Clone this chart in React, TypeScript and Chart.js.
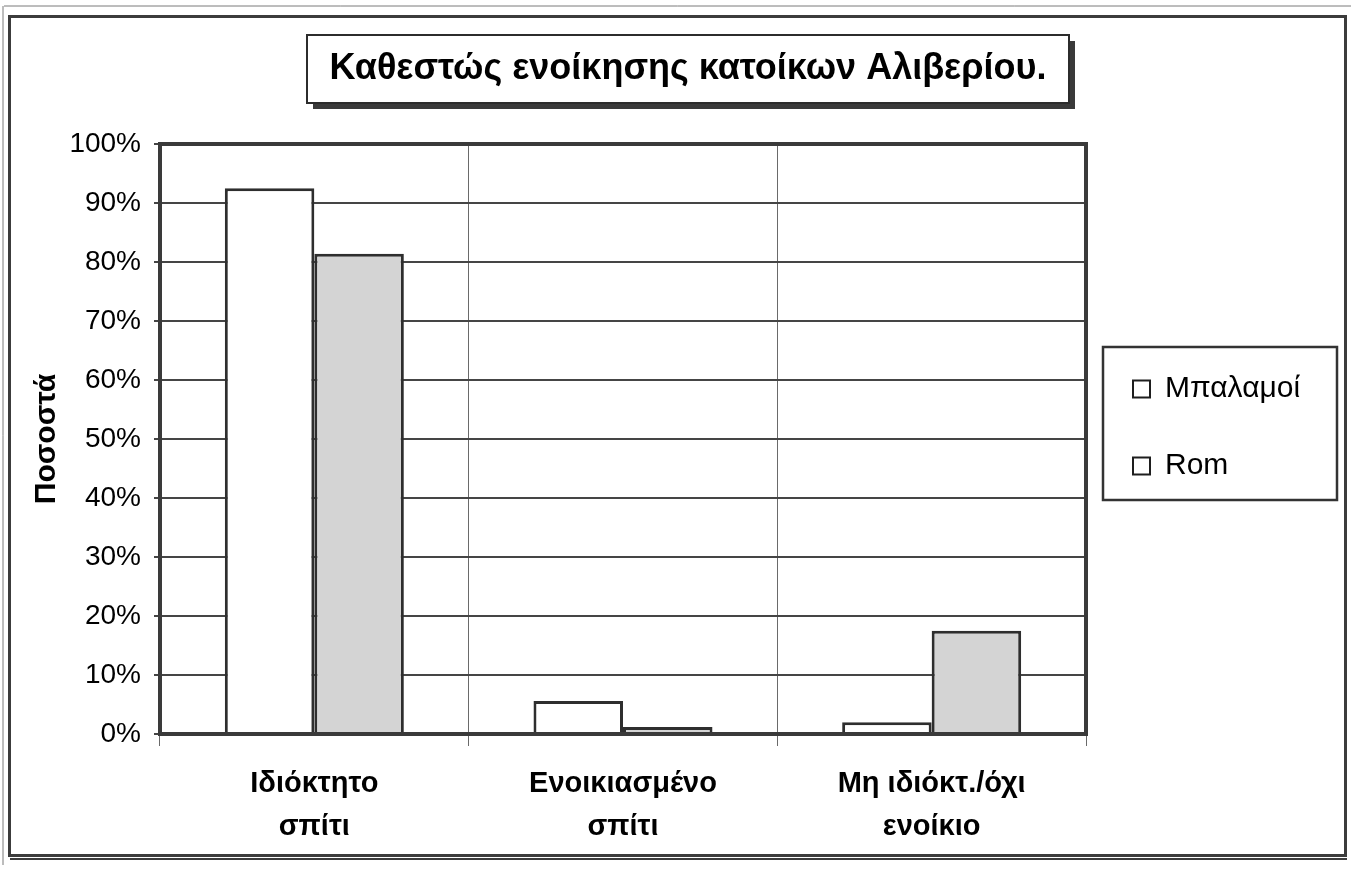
import React, { useEffect, useRef } from "react";
import { Chart, registerables } from "chart.js";

Chart.register(...registerables);

const W = 1355;
const H = 869;

const categories: string[][] = [
  ["Ιδιόκτητο", "σπίτι"],
  ["Ενοικιασμένο", "σπίτι"],
  ["Μη ιδιόκτ./όχι", "ενοίκιο"],
];
const seriesNames = ["Μπαλαμοί", "Rom"];
const balamoiValues = [92.5, 5.6, 2.0];
const romValues = [81.4, 1.2, 17.5];
const yTicks = [0, 10, 20, 30, 40, 50, 60, 70, 80, 90, 100];
const chartTitle = "Καθεστώς ενοίκησης κατοίκων Αλιβερίου.";
const yAxisTitle = "Ποσοστά";

const FONT = '"Liberation Sans", Arial, Helvetica, sans-serif';

export default function App() {
  const ref = useRef<HTMLCanvasElement>(null);

  useEffect(() => {
    const canvas = ref.current;
    if (!canvas) return;

    const legendFontSize = 30;
    const titleFontSize = 36;
    const mctx = document.createElement("canvas").getContext("2d")!;
    mctx.font = `${legendFontSize}px ${FONT}`;
    const textW = Math.max(...seriesNames.map((s) => mctx.measureText(s).width));
    const legendPad = 47;
    const boxW = 17;
    const legendW = legendPad + boxW + legendFontSize / 2 + textW + 10;

    const plotLeft = 160;
    const plotRight = 1086;
    const plotTop = 144;
    const plotBottom = 734;
    const padB = 14;
    const padR = Math.max(0, W - plotRight - legendW);
    const padL = padR + 21;
    const yTitleSize = 30;
    const yTitleLH = yTitleSize * 1.2;
    const titleLH = titleFontSize * 1.2;
    const titlePadTop = 69 - titleLH / 2;
    const titlePadBottom = plotTop - titlePadTop - titleLH;

    const decor = {
      id: "decor",
      beforeDraw(chart: any) {
        const ctx = chart.ctx;
        ctx.save();
        ctx.fillStyle = "#ffffff";
        ctx.fillRect(0, 0, W, H);
        // outer frame
        ctx.strokeStyle = "#7a7a7a";
        ctx.lineWidth = 1;
        ctx.beginPath();
        ctx.moveTo(4, 6);
        ctx.lineTo(W - 4, 6);
        ctx.moveTo(3, 6);
        ctx.lineTo(3, H - 4);
        ctx.stroke();
        ctx.strokeStyle = "#3c3c3c";
        ctx.lineWidth = 3;
        ctx.strokeRect(9.5, 16.5, 1336, 839);
        ctx.lineWidth = 2;
        ctx.beginPath();
        ctx.moveTo(10, 859);
        ctx.lineTo(1347, 859);
        ctx.stroke();

        // title box with shadow
        const tb = chart.titleBlock;
        ctx.font = `bold ${titleFontSize}px ${FONT}`;
        const tw = ctx.measureText(chartTitle).width;
        const cx = (tb.left + tb.right) / 2;
        const cy = tb.top + titlePadTop + titleLH / 2;
        const hw = Math.max(tw / 2 + 13, 381);
        const x0 = cx - hw;
        const y0 = cy - 34;
        const bw = hw * 2;
        const bh = 68;
        ctx.fillStyle = "#3a3a3a";
        ctx.fillRect(x0 + 6, y0 + 6, bw, bh);
        ctx.fillStyle = "#ffffff";
        ctx.fillRect(x0, y0, bw, bh);
        ctx.strokeStyle = "#2c2c2c";
        ctx.lineWidth = 2;
        ctx.strokeRect(x0, y0, bw, bh);

        // legend box
        const hb = chart.legend && chart.legend.legendHitBoxes;
        if (hb && hb.length) {
          const first = hb[0];
          const last = hb[hb.length - 1];
          const lx = first.left - 30;
          const ly = first.top + first.height / 2 - 42;
          const ly2 = last.top + last.height / 2 + 34;
          const maxRight = Math.max(...hb.map((h: any) => h.left + h.width));
          const lw = Math.max(234, maxRight + 24 - lx);
          ctx.strokeStyle = "#333333";
          ctx.lineWidth = 2.5;
          ctx.strokeRect(lx, ly, lw, ly2 - ly);
        }
        ctx.restore();
      },
      afterDatasetsDraw(chart: any) {
        const ctx = chart.ctx;
        const a = chart.chartArea;
        ctx.save();
        ctx.strokeStyle = "#3a3a3a";
        ctx.lineWidth = 4;
        ctx.strokeRect(a.left, a.top, a.right - a.left, a.bottom - a.top);
        ctx.restore();
      },
    };

    const chart = new Chart(canvas, {
      type: "bar",
      data: {
        labels: categories,
        datasets: [
          {
            label: seriesNames[0],
            data: balamoiValues,
            backgroundColor: "#ffffff",
            borderColor: "#2e2e2e",
            borderWidth: 3,
          },
          {
            label: seriesNames[1],
            data: romValues,
            backgroundColor: "#d4d4d4",
            borderColor: "#2e2e2e",
            borderWidth: 3,
          },
        ],
      },
      options: {
        responsive: false,
        animation: false,
        devicePixelRatio: 1,
        layout: { padding: { left: padL, right: padR, top: 0, bottom: padB } },
        datasets: {
          bar: { categoryPercentage: 0.58, barPercentage: 1.0 },
        },
        plugins: {
          tooltip: { enabled: false },
          title: {
            display: true,
            text: chartTitle,
            color: "#000000",
            font: { family: FONT, size: titleFontSize, weight: "bold", lineHeight: 1.2 },
            padding: { top: titlePadTop, bottom: titlePadBottom },
          },
          legend: {
            display: true,
            position: "right",
            align: "center",
            labels: {
              color: "#000000",
              font: { family: FONT, size: legendFontSize },
              boxWidth: boxW,
              boxHeight: 17,
              padding: legendPad,
              generateLabels: (ch: any) => {
                const items = Chart.defaults.plugins.legend.labels.generateLabels(ch);
                return items.map((it: any) => ({
                  ...it,
                  fillStyle: "#ffffff",
                  strokeStyle: "#1e1e1e",
                  lineWidth: 2,
                }));
              },
            },
          },
        },
        scales: {
          x: {
            type: "category",
            offset: true,
            afterFit: (scale: any) => {
              scale.height = H - padB - plotBottom;
            },
            grid: {
              display: true,
              offset: true,
              color: "#6a6a6a",
              lineWidth: 1,
              drawTicks: true,
              tickLength: 12,
            },
            border: { display: false },
            ticks: {
              color: "#000000",
              font: { family: FONT, size: 29, weight: "bold", lineHeight: 1.48 },
              padding: 17,
              maxRotation: 0,
              minRotation: 0,
            },
          },
          y: {
            type: "linear",
            min: 0,
            max: 100,
            afterFit: (scale: any) => {
              scale.width = plotLeft - padL;
            },
            afterBuildTicks: (scale: any) => {
              scale.ticks = yTicks.map((v) => ({ value: v }));
            },
            grid: {
              display: true,
              color: "#454545",
              lineWidth: 2,
              drawTicks: true,
              tickLength: 6,
            },
            border: { display: false },
            ticks: {
              color: "#000000",
              font: { family: FONT, size: 28 },
              padding: 13,
              callback: (v: any) => `${v}%`,
            },
            title: {
              display: true,
              text: yAxisTitle,
              color: "#000000",
              font: { family: FONT, size: yTitleSize, weight: "bold", lineHeight: 1.2 },
              padding: { top: 47 - padL - yTitleLH / 2, bottom: 0 },
            },
          },
        },
      },
      plugins: [decor],
    } as any);

    return () => {
      chart.destroy();
    };
  }, []);

  return (
    <canvas
      ref={ref}
      width={W}
      height={H}
      style={{ position: "fixed", left: 0, top: 0, width: W, height: H, display: "block" }}
    />
  );
}
